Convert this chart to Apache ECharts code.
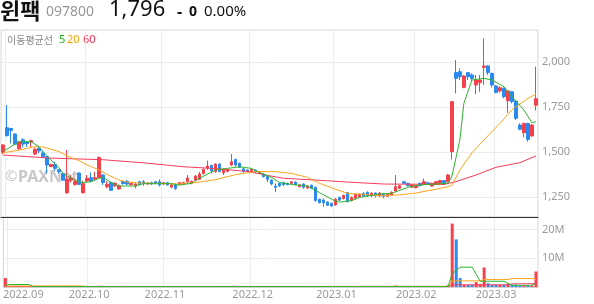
<!DOCTYPE html>
<html><head><meta charset="utf-8">
<script src="https://cdn.jsdelivr.net/npm/echarts@6.0.0/dist/echarts.min.js"></script>
<style>html,body{margin:0;padding:0;background:#fff}#c{width:594px;height:304px}</style>
</head><body><div id="c"></div>
<script>
// ---- categories: Korean trading days, 2022.08.31 – 2023.03.16
const tradingMonths = [
  ['2022', '08', [31]],
  ['2022', '09', [1,2,5,6,7,8,13,14,15,16,19,20,21,22,23,26,27,28,29,30]],
  ['2022', '10', [4,5,6,7,11,12,13,14,17,18,19,20,21,24,25,26,27,28,31]],
  ['2022', '11', [1,2,3,4,7,8,9,10,11,14,15,16,17,18,21,22,23,24,25,28,29,30]],
  ['2022', '12', [1,2,5,6,7,8,9,12,13,14,15,16,19,20,21,22,23,26,27,28,29]],
  ['2023', '01', [2,3,4,5,6,9,10,11,12,13,16,17,18,19,20,25,26,27,30,31]],
  ['2023', '02', [1,2,3,6,7,8,9,10,13,14,15,16,17,20,21,22,23,24,27,28]],
  ['2023', '03', [2,3,6,7,8,9,10,13,14,15,16]]
];

// ---- OHLC
const opens = [
 1498,1635,1631,1600,1517,1568,1556,1556,1489,1520,
 1494,1474,1420,1431,1402,1380,1274,1344,1320,1383,
 1274,1339,1357,1350,1357,1372,1307,1330,1313,1295,
 1336,1338,1318,1311,1335,1335,1322,1330,1335,1335,
 1322,1330,1305,1317,1320,1322,1335,1326,1344,1348,
 1381,1411,1426,1391,1433,1385,1392,1428,1459,1437,
 1407,1400,1392,1400,1381,1378,1363,1344,1311,1326,
 1330,1326,1326,1333,1307,1322,1300,1315,1304,1237,
 1233,1222,1215,1206,1248,1241,1274,1230,1243,1252,
 1270,1276,1257,1272,1257,1268,1254,1261,1283,1298,
 1335,1326,1305,1302,1326,1320,1329,1311,1322,1326,
 1341,1335,1502,1941,1946,1859,1941,1928,1872,1885,
 1970,1978,1937,1867,1839,1854,1785,1835,1783,1650,
 1607,1659,1589,1760];
const closes = [
 1539,1591,1620,1543,1557,1544,1546,1563,1515,1505,
 1474,1428,1431,1409,1391,1344,1350,1357,1335,1320,
 1324,1354,1339,1357,1470,1330,1320,1287,1326,1313,
 1325,1322,1326,1322,1318,1326,1328,1322,1326,1317,
 1330,1317,1317,1298,1330,1330,1356,1337,1366,1378,
 1403,1422,1396,1433,1391,1403,1403,1446,1428,1415,
 1391,1392,1403,1389,1389,1363,1348,1322,1304,1311,
 1319,1319,1335,1319,1318,1304,1311,1298,1230,1218,
 1218,1204,1200,1237,1233,1259,1224,1248,1265,1265,
 1257,1257,1272,1257,1272,1254,1265,1276,1307,1313,
 1326,1313,1317,1313,1313,1335,1322,1326,1335,1341,
 1322,1372,1780,1909,1918,1922,1918,1909,1900,1900,
 1978,1941,1872,1830,1857,1807,1839,1780,1687,1626,
 1659,1570,1650,1796];
const lows = [
 1487,1585,1548,1539,1515,1526,1528,1524,1483,1493,
 1465,1381,1416,1394,1380,1339,1267,1331,1313,1316,
 1268,1331,1331,1339,1352,1317,1298,1283,1305,1290,
 1318,1316,1312,1298,1315,1312,1318,1318,1320,1308,
 1318,1313,1298,1289,1316,1318,1326,1320,1340,1345,
 1374,1400,1381,1385,1388,1372,1388,1422,1418,1411,
 1385,1388,1388,1385,1378,1359,1333,1315,1278,1307,
 1311,1315,1322,1315,1303,1296,1296,1296,1224,1215,
 1196,1200,1196,1200,1228,1236,1220,1226,1238,1248,
 1252,1250,1250,1248,1250,1243,1250,1257,1280,1294,
 1322,1309,1300,1298,1309,1316,1318,1307,1318,1320,
 1316,1330,1459,1826,1900,1854,1900,1890,1822,1835,
 1872,1928,1859,1826,1830,1798,1718,1770,1678,1622,
 1581,1557,1585,1730];
const highs = [
 1544,1761,1633,1604,1560,1576,1561,1568,1524,1530,
 1505,1478,1435,1446,1405,1384,1511,1372,1352,1387,
 1339,1372,1387,1390,1474,1378,1339,1335,1333,1320,
 1340,1344,1332,1326,1340,1344,1333,1335,1338,1348,
 1333,1333,1326,1326,1333,1335,1372,1341,1372,1390,
 1409,1452,1428,1437,1437,1409,1407,1489,1463,1441,
 1411,1403,1407,1403,1392,1381,1367,1348,1326,1330,
 1335,1330,1339,1337,1320,1326,1315,1319,1308,1240,
 1241,1226,1218,1244,1252,1263,1278,1252,1268,1270,
 1276,1281,1276,1276,1278,1272,1268,1281,1372,1318,
 1340,1330,1320,1318,1330,1352,1335,1330,1339,1346,
 1344,1378,1782,2011,1965,1928,1941,1937,1928,1928,
 2131,1983,1941,1872,1865,1859,1844,1839,1785,1659,
 1663,1663,1655,1974];

// ---- volume
const volumes = [
 3100000,180000,150000,120000,140000,100000,90000,110000,130000,120000,
 100000,110000,150000,90000,100000,120000,400000,130000,100000,120000,
 140000,110000,100000,90000,420000,150000,120000,90000,100000,380000,
 90000,100000,80000,110000,90000,100000,80000,90000,100000,110000,
 90000,80000,100000,120000,90000,100000,140000,90000,110000,130000,
 150000,160000,120000,130000,110000,100000,90000,400000,140000,110000,
 100000,90000,80000,100000,90000,110000,120000,130000,150000,100000,
 90000,80000,90000,80000,100000,90000,80000,90000,200000,150000,
 120000,100000,110000,140000,100000,90000,120000,100000,90000,80000,
 90000,100000,80000,90000,80000,90000,100000,110000,500000,150000,
 120000,100000,90000,100000,110000,130000,100000,90000,110000,120000,
 100000,600000,22100000,16600000,3100000,800000,800000,800000,1700000,1000000,
 6800000,1300000,800000,800000,800000,800000,1200000,800000,800000,500000,
 600000,500000,500000,5400000];

// ---- moving averages: [category index, value]
const ma5 = [[0,1502],[2,1530],[4,1557],[7,1557],[9,1530],[10,1502],[12,1455],[14,1412],[15,1381],[17,1354],[19,1335],[20,1330],[22,1335],[24,1354],[25,1359],[27,1330],[29,1311],[33,1311],[35,1324],[42,1324],[44,1316],[47,1326],[49,1354],[53,1400],[56,1409],[59,1418],[62,1409],[64,1385],[67,1359],[69,1330],[73,1317],[76,1311],[79,1274],[83,1226],[84,1222],[87,1230],[89,1248],[92,1259],[94,1267],[97,1270],[101,1304],[104,1317],[108,1322],[111,1326],[112,1363],[114,1567],[115,1770],[117,1900],[120,1909],[122,1900],[125,1863],[127,1807],[130,1733],[132,1663],[133,1668]];
const ma20 = [[0,1496],[4,1510],[8,1530],[10,1528],[14,1502],[16,1478],[19,1452],[21,1428],[24,1400],[26,1375],[29,1344],[31,1333],[34,1328],[40,1325],[44,1322],[48,1330],[53,1346],[58,1374],[63,1391],[68,1391],[72,1381],[76,1359],[79,1326],[83,1293],[86,1270],[90,1265],[94,1256],[99,1262],[103,1272],[108,1293],[111,1307],[112,1315],[114,1400],[117,1495],[121,1590],[124,1659],[127,1735],[131,1798],[133,1822]];
const ma60 = [[0,1483],[12,1466],[25,1457],[35,1440],[45,1418],[53,1408],[61,1392],[66,1370],[70,1354],[78,1344],[86,1333],[95,1322],[110,1320],[113,1335],[118,1372],[123,1415],[129,1441],[133,1478]];
const volMa5 = [[0,600000],[1,870000],[6,870000],[7,150000],[110,150000],[111,280000],[112,4700000],[114,6900000],[117,6900000],[119,2000000],[125,2000000],[127,600000],[132,600000],[133,1300000]];
const volMa20 = [[0,300000],[3,350000],[19,350000],[20,150000],[111,200000],[112,2150000],[119,2150000],[120,2600000],[126,2600000],[127,2950000],[132,2950000],[133,2700000]];
const volMa60 = [[0,200000],[111,200000],[112,750000],[126,750000],[127,1100000],[133,1150000]];

// ---- ticks
const priceTicks = [1250, 1500, 1750, 2000];
const volumeTicks = [10000000, 20000000];

// ---- header texts
const stockName = '윈팩';
const stockCode = '097800';
const lastPrice = '1,796';
const changeSign = '-';
const changeValue = '0';
const changeRate = '0.00%';
const maTitle = '이동평균선';
const maLabels = ['5', '20', '60'];

// ---- build
const dates = [];
tradingMonths.forEach(([y, m, days]) => days.forEach(d => dates.push(y + '.' + m + '.' + String(d).padStart(2, '0'))));
const isMonthStart = dates.map((d, i) => i > 0 && d.slice(0, 7) !== dates[i - 1].slice(0, 7));
const candles = dates.map((_, i) => [opens[i], closes[i], lows[i], highs[i]]);

const UP = '#f5414b', DOWN = '#2a8af0';
const C5 = '#2fb62f', C20 = '#ffa51c', C60 = '#fa3c5c';
const KFONT = '"Noto Sans CJK KR", "Noto Sans", sans-serif';
const NFONT = '"Noto Sans", "Noto Sans CJK KR", sans-serif';

const chart = echarts.init(document.getElementById('c'), null, {renderer: 'canvas'});
const gridBorder = '#d6d6d6';
const splitCol = '#ececec';

chart.setOption({
  animation: false,
  backgroundColor: '#fff',
  grid: [
    {left: 1, right: 56, top: 30, height: 187, show: true, borderColor: gridBorder, borderWidth: 1},
    {left: 1, right: 56, top: 217, height: 70, show: true, borderColor: gridBorder, borderWidth: 1}
  ],
  xAxis: [
    {type: 'category', data: dates, gridIndex: 0, boundaryGap: true,
     axisLine: {show: true, lineStyle: {color: '#333', width: 1}},
     axisTick: {show: false}, axisLabel: {show: false},
     splitLine: {show: true, interval: (i) => isMonthStart[i], lineStyle: {color: splitCol, width: 1}}},
    {type: 'category', data: dates, gridIndex: 1, boundaryGap: true,
     axisLine: {show: true, lineStyle: {color: '#cfcfcf'}},
     axisTick: {show: false},
     axisLabel: {show: true, interval: (i) => isMonthStart[i], color: '#9a9a9a', fontSize: 11, fontFamily: NFONT, margin: 2,
       formatter: (v, i) => (i === 1 ? '{f|' + v.slice(0, 7) + '}' : v.slice(0, 7)),
       rich: {f: {padding: [0, 0, 0, 28], color: '#9a9a9a', fontSize: 11, fontFamily: NFONT}}},
     splitLine: {show: true, interval: (i) => isMonthStart[i], lineStyle: {color: splitCol, width: 1}}}
  ],
  yAxis: [
    {type: 'value', gridIndex: 0, position: 'right', min: 1138.9, max: 2177.8, scale: true,
     axisLine: {show: false},
     axisTick: {show: false, customValues: priceTicks},
     axisLabel: {customValues: priceTicks, color: '#9a9a9a', fontSize: 11, fontFamily: NFONT, margin: 4,
       formatter: v => v.toLocaleString('en-US')},
     splitLine: {show: true, lineStyle: {color: splitCol}}},
    {type: 'value', gridIndex: 1, position: 'right', min: 0, max: 24400000,
     axisLine: {show: false},
     axisTick: {show: false, customValues: volumeTicks},
     axisLabel: {customValues: volumeTicks, color: '#9a9a9a', fontSize: 11, fontFamily: NFONT, margin: 4,
       formatter: v => (v / 1000000) + 'M'},
     splitLine: {show: true, lineStyle: {color: splitCol}}}
  ],
  series: [
    {type: 'candlestick', xAxisIndex: 0, yAxisIndex: 0, data: candles, barWidth: 3,
     itemStyle: {color: UP, color0: DOWN, borderColor: UP, borderColor0: DOWN, borderWidth: 1}},
    {type: 'line', xAxisIndex: 0, yAxisIndex: 0, data: ma60, symbol: 'none', lineStyle: {color: C60, width: 1}, z: 3},
    {type: 'line', xAxisIndex: 0, yAxisIndex: 0, data: ma20, symbol: 'none', lineStyle: {color: C20, width: 1}, z: 3},
    {type: 'line', xAxisIndex: 0, yAxisIndex: 0, data: ma5, symbol: 'none', lineStyle: {color: C5, width: 1}, z: 3},
    {type: 'bar', xAxisIndex: 1, yAxisIndex: 1, data: volumes, barWidth: 3,
     itemStyle: {color: p => (closes[p.dataIndex] >= opens[p.dataIndex] ? UP : DOWN)}},
    {type: 'line', xAxisIndex: 1, yAxisIndex: 1, data: volMa60, symbol: 'none', lineStyle: {color: C60, width: 1}, z: 3},
    {type: 'line', xAxisIndex: 1, yAxisIndex: 1, data: volMa20, symbol: 'none', lineStyle: {color: C20, width: 1}, z: 3},
    {type: 'line', xAxisIndex: 1, yAxisIndex: 1, data: volMa5, symbol: 'none', lineStyle: {color: C5, width: 1}, z: 3}
  ],
  graphic: [
    {type: 'text', x: 0, y: 11, style: {text: stockName, font: 'bold 22px ' + KFONT, fill: '#111', verticalAlign: 'middle'}},
    {type: 'text', x: 46, y: 12, style: {text: stockCode, font: '14px ' + NFONT, fill: '#999', verticalAlign: 'middle'}},
    {type: 'text', x: 109, y: 10, style: {text: lastPrice, font: '22px ' + NFONT, fill: '#111', verticalAlign: 'middle'}},
    {type: 'text', x: 177, y: 12, style: {text: changeSign, font: 'bold 16px ' + NFONT, fill: '#111', verticalAlign: 'middle'}},
    {type: 'text', x: 189, y: 12, style: {text: changeValue, font: 'bold 14px ' + NFONT, fill: '#111', verticalAlign: 'middle'}},
    {type: 'text', x: 204, y: 12, style: {text: changeRate, font: '15px ' + NFONT, fill: '#111', verticalAlign: 'middle'}},
    {type: 'text', x: 7, y: 40, style: {text: maTitle, font: '10px ' + KFONT, fill: '#8a8a8a', verticalAlign: 'middle'}},
    {type: 'text', x: 59, y: 40, style: {text: maLabels[0], font: '11px ' + NFONT, fill: '#1eb41e', verticalAlign: 'middle'}},
    {type: 'text', x: 67, y: 40, style: {text: maLabels[1], font: '11px ' + NFONT, fill: '#ffa200', verticalAlign: 'middle'}},
    {type: 'text', x: 83, y: 40, style: {text: maLabels[2], font: '11px ' + NFONT, fill: '#ff2d55', verticalAlign: 'middle'}},
    {type: 'text', x: 5, y: 177, z: 0, style: {text: '©', font: '15px ' + NFONT, fill: '#c8c8c8', verticalAlign: 'middle'}},
    {type: 'text', x: 18, y: 177, z: 0, style: {text: 'PAXNet', font: 'bold 16px ' + NFONT, fill: '#c8c8c8', verticalAlign: 'middle'}}
  ]
});
</script></body></html>
